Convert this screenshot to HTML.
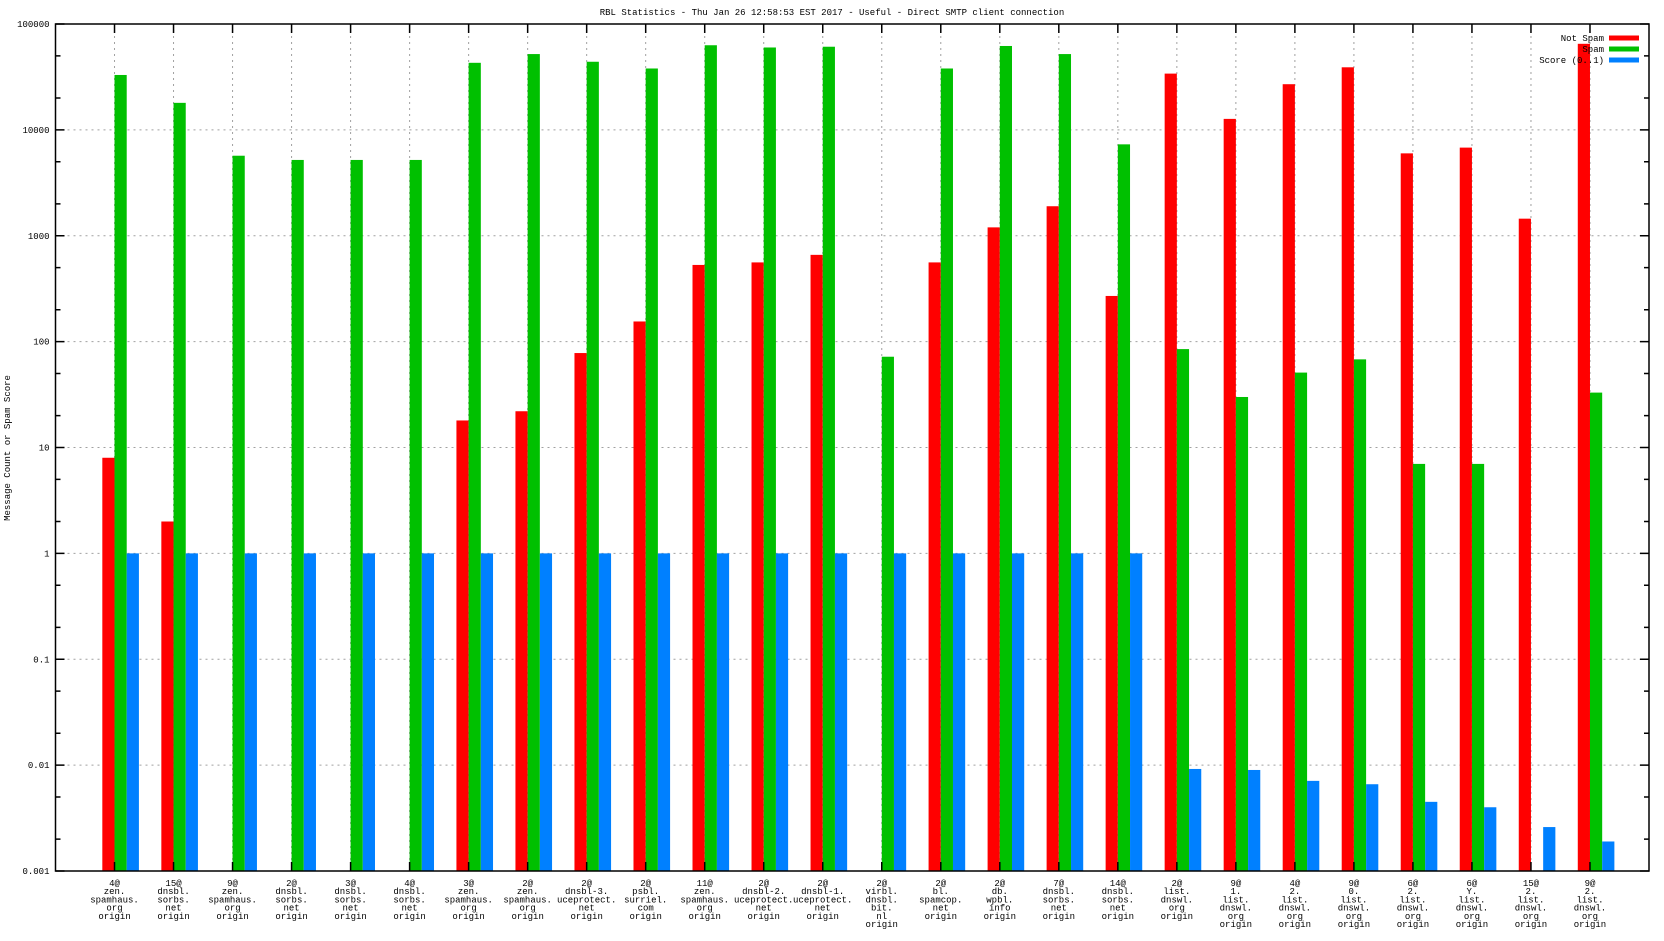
<!DOCTYPE html>
<html><head><meta charset="utf-8"><style>
html,body{margin:0;padding:0;background:#fff;}
svg text{font-family:"Liberation Mono",monospace;font-size:9px;fill:#000;}
</style></head><body>
<svg id="chart" width="1664" height="936" xmlns="http://www.w3.org/2000/svg">
<text x="832" y="15" text-anchor="middle">RBL Statistics - Thu Jan 26 12:58:53 EST 2017 - Useful - Direct SMTP client connection</text>
<text transform="translate(10,448) rotate(-90)" text-anchor="middle">Message Count or Spam Score</text>
<g id="grid"></g><g id="bars"></g><g id="axes"></g><g id="legend"></g>
</svg>
<script>
const categories = [
 ["4@","zen.","spamhaus.","org","origin"],
 ["15@","dnsbl.","sorbs.","net","origin"],
 ["9@","zen.","spamhaus.","org","origin"],
 ["2@","dnsbl.","sorbs.","net","origin"],
 ["3@","dnsbl.","sorbs.","net","origin"],
 ["4@","dnsbl.","sorbs.","net","origin"],
 ["3@","zen.","spamhaus.","org","origin"],
 ["2@","zen.","spamhaus.","org","origin"],
 ["2@","dnsbl-3.","uceprotect.","net","origin"],
 ["2@","psbl.","surriel.","com","origin"],
 ["11@","zen.","spamhaus.","org","origin"],
 ["2@","dnsbl-2.","uceprotect.","net","origin"],
 ["2@","dnsbl-1.","uceprotect.","net","origin"],
 ["2@","virbl.","dnsbl.","bit.","nl","origin"],
 ["2@","bl.","spamcop.","net","origin"],
 ["2@","db.","wpbl.","info","origin"],
 ["7@","dnsbl.","sorbs.","net","origin"],
 ["14@","dnsbl.","sorbs.","net","origin"],
 ["2@","list.","dnswl.","org","origin"],
 ["9@","1.","list.","dnswl.","org","origin"],
 ["4@","2.","list.","dnswl.","org","origin"],
 ["9@","0.","list.","dnswl.","org","origin"],
 ["6@","2.","list.","dnswl.","org","origin"],
 ["6@","Y.","list.","dnswl.","org","origin"],
 ["15@","2.","list.","dnswl.","org","origin"],
 ["9@","2.","list.","dnswl.","org","origin"]
];
const notSpam = [8,2,0,0,0,0,18,22,78,155,530,560,660,0,560,1200,1900,270,34000,12700,27000,39000,6000,6800,1450,65000];
const spam = [33000,18000,5700,5200,5200,5200,43000,52000,44000,38000,63000,60000,61000,72,38000,62000,52000,7300,85,30,51,68,7,7,0,33];
const score = [1,1,1,1,1,1,1,1,1,1,1,1,1,1,1,1,1,1,0.0092,0.009,0.0071,0.0066,0.0045,0.004,0.0026,0.0019];
const yTickLabels = ["0.001","0.01","0.1","1","10","100","1000","10000","100000"];
const seriesNames = ["Not Spam","Spam","Score (0..1)"];
const seriesColors = ["#ff0000","#00c000","#0080ff"];

const NS="http://www.w3.org/2000/svg";
const L=55.5,R=1649,T=24,B=871,yMin=-3,yMax=5,xMin=-1,xMax=categories.length;
const xs=i=>L+(i-xMin)/(xMax-xMin)*(R-L);
const ys=v=>B-(Math.log10(v)-yMin)/(yMax-yMin)*(B-T);
function mk(tag,attrs,parent){const e=document.createElementNS(NS,tag);for(const k in attrs)e.setAttribute(k,attrs[k]);parent.appendChild(e);return e;}
const grid=document.getElementById('grid'),bars=document.getElementById('bars'),axes=document.getElementById('axes'),legend=document.getElementById('legend');

yTickLabels.forEach((lab,k)=>{
  const v=parseFloat(lab),y=ys(v);
  if(k>0&&k<yTickLabels.length-1){const g=mk('line',{x1:L,x2:R,y1:y,y2:y,stroke:'#a0a0a0','stroke-width':1,'stroke-dasharray':'2,4'},grid);
  
  }
  mk('line',{x1:L,x2:L+9,y1:y,y2:y,stroke:'#000','stroke-width':1.5},axes);
  mk('line',{x1:R-9,x2:R,y1:y,y2:y,stroke:'#000','stroke-width':1.5},axes);
  const t=mk('text',{x:L-6,y:y+3,'text-anchor':'end'},axes);t.textContent=lab;
  
  
  if(k<yTickLabels.length-1){[2,5].forEach(m=>{const yy=ys(v*m);
    mk('line',{x1:L,x2:L+5,y1:yy,y2:yy,stroke:'#000','stroke-width':1.5},axes);
    mk('line',{x1:R-5,x2:R,y1:yy,y2:yy,stroke:'#000','stroke-width':1.5},axes);});}
});
const bw=12.2;
categories.forEach((lines,i)=>{
  const x=xs(i);
  const g=mk('line',{x1:x,x2:x,y1:T,y2:B,stroke:'#a0a0a0','stroke-width':1,'stroke-dasharray':'2,4'},grid);
  
  
  mk('line',{x1:x,x2:x,y1:T,y2:T+9,stroke:'#000','stroke-width':1.5},axes);
  mk('line',{x1:x,x2:x,y1:B-9,y2:B,stroke:'#000','stroke-width':1.5},axes);
  const t=mk('text',{x:x,'text-anchor':'middle'},axes);
  
  
  lines.forEach((s,j)=>{const ts=mk('tspan',{x:x,y:886+j*8.2},t);ts.textContent=s;});
  [notSpam,spam,score].forEach((arr,s)=>{
    const v=arr[i]; if(!(v>0))return;
    const y=ys(v);
    const r=mk('rect',{x:x+(s-1)*bw,y:y,width:bw,height:B-y,fill:seriesColors[s]},bars);
    
    
  });
});
const border=mk('rect',{x:L,y:T,width:R-L,height:B-T,fill:'none',stroke:'#000','stroke-width':1.5},axes);


seriesNames.forEach((n,s)=>{
  const y=38+s*11;
  const t=mk('text',{x:1604,y:y+3,'text-anchor':'end'},legend);t.textContent=n;
  
  
  const r=mk('rect',{x:1609,y:y-2.5,width:30,height:5,fill:seriesColors[s]},legend);
  
  
});
</script>
</body></html>
